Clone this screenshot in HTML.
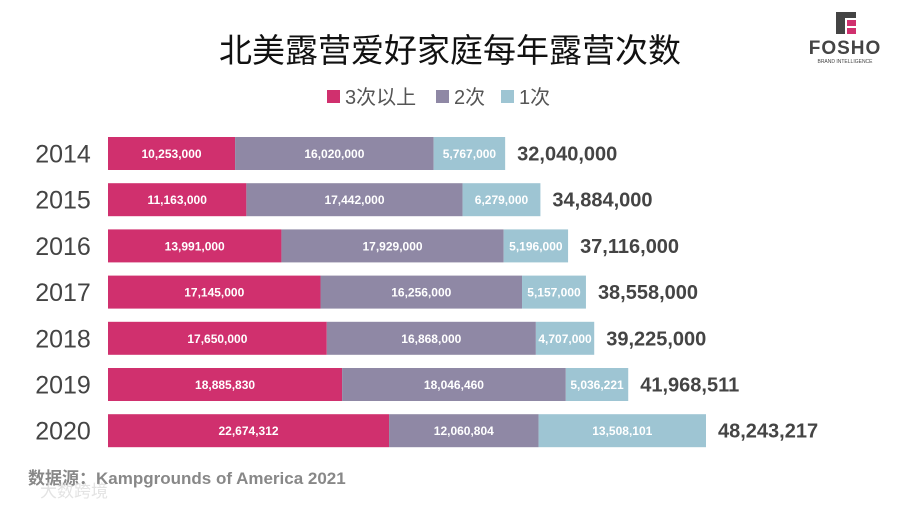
<!DOCTYPE html>
<html><head><meta charset="utf-8"><style>
body{margin:0;width:900px;height:507px;background:#fff;overflow:hidden;font-family:"Liberation Sans","Noto Sans CJK SC",sans-serif}
</style></head><body>
<svg id="chart" width="900" height="507" xmlns="http://www.w3.org/2000/svg">
<text x="450" y="62" text-anchor="middle" font-size="33" fill="#111" font-family="Liberation Sans,Noto Sans CJK SC,sans-serif">北美露营爱好家庭每年露营次数</text>
<g>
<rect x="836" y="12" width="9" height="22" fill="#444"/><rect x="836" y="12" width="20" height="6" fill="#444"/><rect x="847" y="20" width="9" height="6" fill="#d0306e"/><rect x="847" y="28" width="9" height="6" fill="#d0306e"/>
<text x="845" y="54" text-anchor="middle" font-size="19" font-weight="bold" fill="#444" letter-spacing="1">FOSHO</text>
<text x="845" y="63" text-anchor="middle" font-size="5" fill="#444">BRAND INTELLIGENCE</text>
</g>
<g id="legend"></g>
<g id="bars"></g>
<text x="28" y="484" font-size="17" font-weight="bold" fill="#888">数据源：Kampgrounds of America 2021</text>
<text x="40" y="497" font-size="17" fill="#ddd" opacity="0.8">大数跨境</text>
</svg>
<script>
const years=["2014","2015","2016","2017","2018","2019","2020"];
const threePlus=[10253000,11163000,13991000,17145000,17650000,18885830,22674312];
const two=[16020000,17442000,17929000,16256000,16868000,18046460,12060804];
const one=[5767000,6279000,5196000,5157000,4707000,5036221,13508101];
const totals=[32040000,34884000,37116000,38558000,39225000,41968511,48243217];
const seriesNames=["3次以上","2次","1次"];
const colors=["#d0306e","#8f88a5","#9ec5d3"];
const NS="http://www.w3.org/2000/svg";
const x0=108,pxPerUnit=598/48243217;
const xs=v=>v*pxPerUnit;
const yTop=i=>137+i*46.2, bh=33;
const fmt=n=>n.toLocaleString("en-US");
function mk(t,a,txt){const e=document.createElementNS(NS,t);for(const k in a)e.setAttribute(k,a[k]);if(txt!=null)e.textContent=txt;return e;}
const bars=document.getElementById("bars");
const series=[threePlus,two,one];
years.forEach((y,i)=>{
  const yl=mk("text",{x:63,y:yTop(i)+bh/2+9,"text-anchor":"middle","font-size":"25",fill:"#444"},y);
  
  
  bars.appendChild(yl);
  let x=x0;
  series.forEach((s,j)=>{
    const w=xs(s[i]);
    const r=mk("rect",{x:x,y:yTop(i),width:w,height:bh,fill:colors[j]});
    
    
    bars.appendChild(r);
    const t=mk("text",{x:x+w/2,y:yTop(i)+bh/2+4.5,"text-anchor":"middle","font-size":"12",fill:"#fff","font-weight":"bold"},fmt(s[i]));
    
    
    bars.appendChild(t);
    x+=w;
  });
  const tt=mk("text",{x:x0+xs(totals[i])+12,y:yTop(i)+bh/2+7,"font-size":"20","font-weight":"bold",fill:"#444"},fmt(totals[i]));
  
  
  bars.appendChild(tt);
});
const lg=document.getElementById("legend");
const lx=[327,436,501];
seriesNames.forEach((n,j)=>{
  const r=mk("rect",{x:lx[j],y:90,width:13,height:13,fill:colors[j]});
  
  
  lg.appendChild(r);
  const t=mk("text",{x:lx[j]+18,y:104,"font-size":"20",fill:"#555"},n);
  
  
  lg.appendChild(t);
});
</script>
</body></html>
